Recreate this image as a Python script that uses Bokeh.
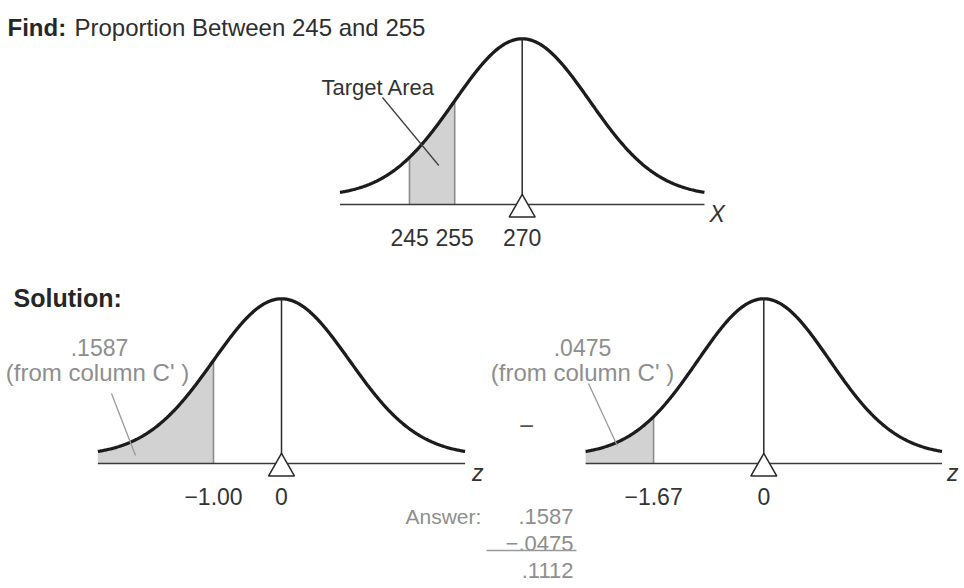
import numpy as np
from bokeh.plotting import figure
from bokeh.models import Range1d
from bokeh.core.properties import value
from bokeh.embed import file_html
from bokeh.resources import INLINE

W, H = 964, 588

# ---- problem data -------------------------------------------------------
MEAN = 270
SD = 15
BOUNDS = [245, 255]                       # interval asked for
Z_LABELS = ["\u22121.00", "\u22121.67"]   # printed z values (for 255 and 245)
TAIL_AREAS = [0.1587, 0.0475]             # column C' areas for z = -1.00, -1.67
ANSWER = round(TAIL_AREAS[0] - TAIL_AREAS[1], 4)

Z_HI = round((BOUNDS[1] - MEAN) / SD, 2)  # -1.00
Z_LO = round((BOUNDS[0] - MEAN) / SD, 2)  # -1.67

# ---- styling ------------------------------------------------------------
FONT = "Liberation Sans"
INK = "#1c1c1c"
LABEL = "#333333"
GREY_TXT = "#8e8e8e"
SHADE = "#d2d2d2"
EDGE = "#8c8c8c"
TAIL = 2.7          # curves are drawn from -TAIL to +TAIL standard deviations
AXIS_GAP = 8        # px between the curve's zero level and the drawn axis line

PEAK = 1 / np.sqrt(2 * np.pi)


def pdf(z):
    return np.exp(-0.5 * z ** 2) / np.sqrt(2 * np.pi)


def fmt(a):
    return f"{a:.4f}".lstrip("0")


p = figure(width=W, height=H, x_range=Range1d(0, W), y_range=Range1d(H, 0),
           output_backend="svg", toolbar_location=None, min_border=0,
           x_axis_type=None, y_axis_type=None, outline_line_color=None,
           background_fill_color="white", border_fill_color="white")
p.grid.visible = False

xr, yr = {}, {}
panels = {}


def panel(name, mean, sd, center_px, px_per_sd, zero_px, peak_px):
    """Data ranges that place a normal curve (mean, sd) inside the page."""
    upx = sd / px_per_sd
    upy = PEAK / (zero_px - peak_px)
    xr[name] = Range1d(mean - center_px * upx, mean + (W - center_px) * upx)
    yr[name] = Range1d(-(H - zero_px) * upy, zero_px * upy)
    panels[name] = dict(mean=mean, sd=sd, upy=upy)


panel("top", MEAN, SD, 521.7, 67.5, 196, 38.3)
panel("left", 0, 1, 281, 68, 455, 298.3)
panel("right", 0, 1, 763.3, 66, 455, 298.3)
p.extra_x_ranges = xr
p.extra_y_ranges = yr


def draw_curve(name, shade_from, shade_to, edges):
    d = panels[name]
    m, s, upy = d["mean"], d["sd"], d["upy"]
    kw = dict(x_range_name=name, y_range_name=name)
    axis_y = -AXIS_GAP * upy

    # shaded area, from the axis line up to the curve
    zs = np.linspace(shade_from, shade_to, 120)
    p.varea(x=m + s * zs, y1=np.full_like(zs, axis_y), y2=pdf(zs),
            fill_color=SHADE, **kw)
    for ze in edges:
        p.segment(x0=[m + s * ze], y0=[axis_y], x1=[m + s * ze], y1=[pdf(ze)],
                  line_color=EDGE, line_width=1.6, **kw)

    # the curve
    z = np.linspace(-TAIL, TAIL, 400)
    p.line(m + s * z, pdf(z), line_color=INK, line_width=3.3, **kw)

    # horizontal axis
    p.segment(x0=[m - TAIL * s], y0=[axis_y], x1=[m + TAIL * s], y1=[axis_y],
              line_color="#3a3a3a", line_width=1.5, **kw)
    # centre line and mean marker
    p.segment(x0=[m], y0=[axis_y], x1=[m], y1=[PEAK],
              line_color="#2a2a2a", line_width=1.5, **kw)
    p.scatter(x=[m], y=[axis_y - 5 * upy], marker="triangle", size=26,
              fill_color="white", line_color="#2a2a2a", line_width=1.5, **kw)
    return axis_y, kw


def tick_labels(name, xs, labels, axis_y, kw):
    p.text(x=xs, y=[axis_y] * len(xs), text=labels, y_offset=33,
           text_font=value(FONT), text_font_size="23px", text_color=LABEL,
           text_align="center", text_baseline="alphabetic", **kw)


def axis_name(name, label, axis_y, kw, dx):
    d = panels[name]
    p.text(x=[d["mean"] + TAIL * d["sd"]], y=[axis_y], text=[label],
           x_offset=dx, y_offset=9, text_font=value(FONT),
           text_font_size="23px", text_font_style="italic", text_color=LABEL,
           text_align="left", text_baseline="alphabetic", **kw)


# ---- top: raw scores ----------------------------------------------------
ay, kw = draw_curve("top", Z_LO, Z_HI, [Z_LO, Z_HI])
tick_labels("top", BOUNDS + [MEAN], [str(b) for b in BOUNDS] + [str(MEAN)], ay, kw)
axis_name("top", "X", ay, kw, 5)

# ---- bottom left: area below z = -1.00 -----------------------------------
ay, kw = draw_curve("left", -TAIL, Z_HI, [Z_HI])
tick_labels("left", [Z_HI, 0], [Z_LABELS[0], "0"], ay, kw)
axis_name("left", "z", ay, kw, 7)

# ---- bottom right: area below z = -1.67 ----------------------------------
ay, kw = draw_curve("right", -TAIL, Z_LO, [Z_LO])
tick_labels("right", [Z_LO, 0], [Z_LABELS[1], "0"], ay, kw)
axis_name("right", "z", ay, kw, 5)

# ---- headings and notes (page coordinates) ------------------------------
def txt(x, y, s, size, color, align="left", style="normal", baseline="alphabetic"):
    p.text(x=[x], y=[y], text=[s], text_font=value(FONT), text_font_size=size,
           text_color=color, text_align=align, text_baseline=baseline,
           text_font_style=style)


txt(7, 27, "Find:", "24px", "#262626", style="bold")
txt(74, 27, f"Proportion Between {BOUNDS[0]} and {BOUNDS[1]}", "24px", "#2e2e2e")
txt(13, 297, "Solution:", "25px", "#262626", style="bold")

txt(321, 87, "Target Area", "22px", LABEL)
p.segment(x0=[382], y0=[97], x1=[438.3], y1=[165], line_color="#404040", line_width=1.3)

txt(99, 347, fmt(TAIL_AREAS[0]), "23px", GREY_TXT, align="center")
txt(97, 372, "(from column C' )", "24px", GREY_TXT, align="center")
p.segment(x0=[111], y0=[393], x1=[135], y1=[455], line_color="#9a9a9a", line_width=1.3)

txt(582, 347, fmt(TAIL_AREAS[1]), "23px", GREY_TXT, align="center")
txt(582, 372, "(from column C' )", "24px", GREY_TXT, align="center")
p.segment(x0=[588], y0=[383], x1=[616.7], y1=[445], line_color="#9a9a9a", line_width=1.3)

txt(526, 425, "\u2212", "26px", "#555555", align="center", baseline="middle")

# ---- the subtraction ----------------------------------------------------
txt(405, 516, "Answer:", "21px", GREY_TXT)
txt(573, 516, fmt(TAIL_AREAS[0]), "22px", GREY_TXT, align="right")
txt(573, 543, "\u2212" + fmt(TAIL_AREAS[1]), "22px", GREY_TXT, align="right")
p.segment(x0=[486], y0=[550], x1=[576], y1=[550], line_color="#9a9a9a", line_width=1.6)
txt(573, 570, fmt(ANSWER), "22px", GREY_TXT, align="right")

open("out.html", "w").write(file_html(p, INLINE))
